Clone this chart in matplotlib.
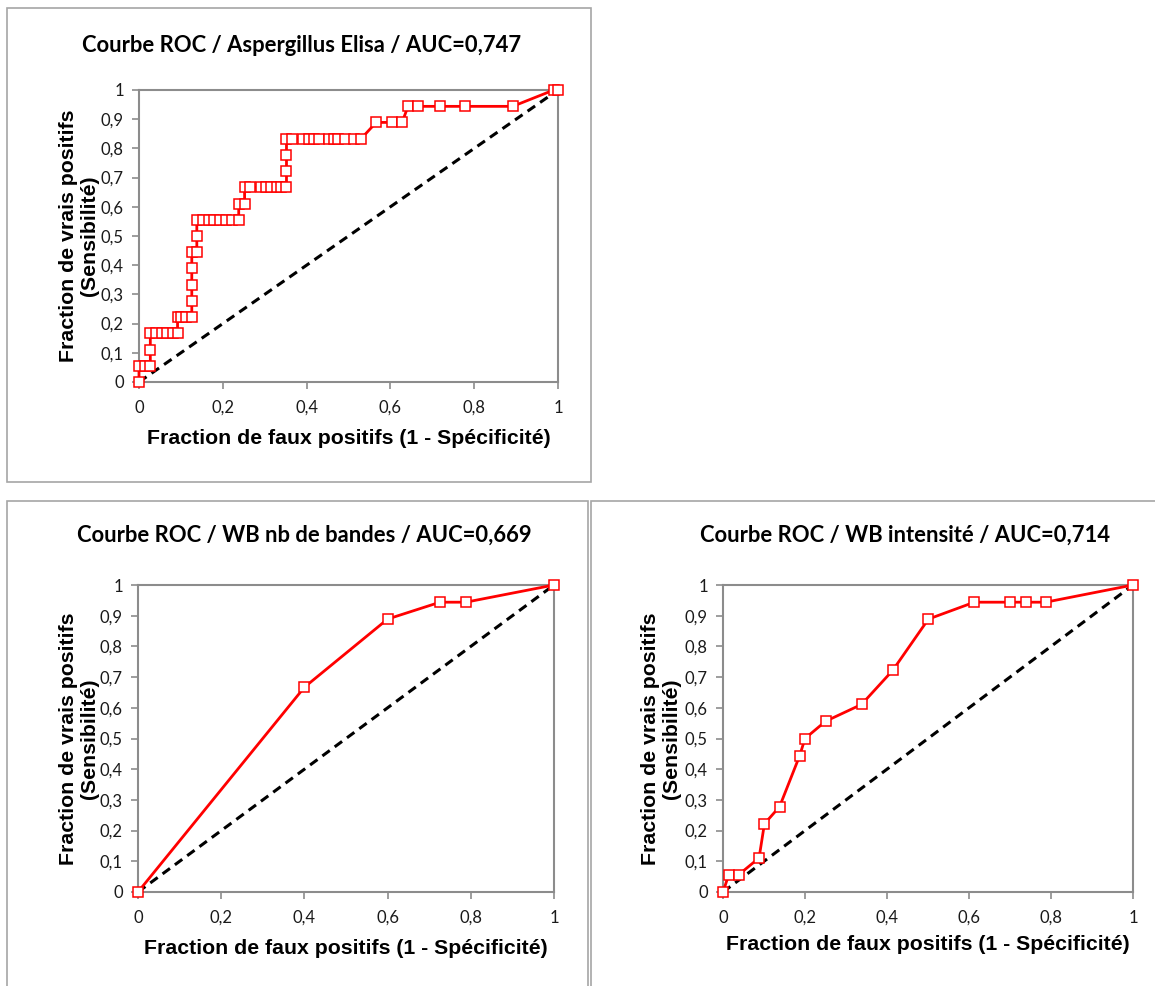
import matplotlib.pyplot as plt
from matplotlib.patches import Rectangle

# Courbe ROC - Aspergillus Elisa
elisa_fpr = [0.0, 0.0, 0.014, 0.027, 0.027, 0.027, 0.040, 0.054, 0.066, 0.080, 0.092,
             0.092, 0.100, 0.113, 0.126, 0.126, 0.126, 0.126, 0.126, 0.138, 0.138,
             0.138, 0.152, 0.166, 0.180, 0.194, 0.208, 0.222, 0.238, 0.238, 0.252,
             0.252, 0.266, 0.290, 0.304, 0.316, 0.329, 0.340, 0.352, 0.352, 0.352,
             0.352, 0.366, 0.392, 0.405, 0.418, 0.430, 0.454, 0.466, 0.476, 0.491,
             0.512, 0.530, 0.566, 0.604, 0.628, 0.642, 0.666, 0.718, 0.778, 0.892,
             0.990, 1.0]
elisa_tpr = [0.0, 0.056, 0.056, 0.056, 0.111, 0.167, 0.167, 0.167, 0.167, 0.167, 0.167,
             0.222, 0.222, 0.222, 0.222, 0.278, 0.333, 0.389, 0.444, 0.444, 0.5,
             0.556, 0.556, 0.556, 0.556, 0.556, 0.556, 0.556, 0.556, 0.611, 0.611,
             0.667, 0.667, 0.667, 0.667, 0.667, 0.667, 0.667, 0.667, 0.722, 0.778,
             0.833, 0.833, 0.833, 0.833, 0.833, 0.833, 0.833, 0.833, 0.833, 0.833,
             0.833, 0.833, 0.889, 0.889, 0.889, 0.944, 0.944, 0.944, 0.944, 0.944,
             1.0, 1.0]

# Courbe ROC - WB nb de bandes
bandes_fpr = [0.0, 0.4, 0.6, 0.726, 0.788, 1.0]
bandes_tpr = [0.0, 0.667, 0.889, 0.944, 0.944, 1.0]

# Courbe ROC - WB intensite
intens_fpr = [0.0, 0.014, 0.038, 0.088, 0.101, 0.138, 0.187, 0.2, 0.25, 0.338,
              0.414, 0.501, 0.613, 0.70, 0.738, 0.787, 1.0]
intens_tpr = [0.0, 0.056, 0.056, 0.111, 0.222, 0.278, 0.444, 0.5, 0.556, 0.611,
              0.722, 0.889, 0.944, 0.944, 0.944, 0.944, 1.0]

titles = ["Courbe ROC / Aspergillus Elisa / AUC=0,747",
          "Courbe ROC / WB nb de bandes / AUC=0,669",
          "Courbe ROC / WB intensité / AUC=0,714"]
xlabel = "Fraction de faux positifs (1 - Spécificité)"
ylabel = "Fraction de vrais positifs\n(Sensibilité)"
xticks = [0, 0.2, 0.4, 0.6, 0.8, 1.0]
xticklabels = ["0", "0,2", "0,4", "0,6", "0,8", "1"]
yticks = [0, 0.1, 0.2, 0.3, 0.4, 0.5, 0.6, 0.7, 0.8, 0.9, 1.0]
yticklabels = ["0", "0,1", "0,2", "0,3", "0,4", "0,5", "0,6", "0,7", "0,8", "0,9", "1"]

W, H = 1155, 986
fig = plt.figure(figsize=(W / 100, H / 100), dpi=100)
fig.patch.set_facecolor("white")

GRIS = "#8c8c8c"
ROUGE = "#ff0000"


def fx(px):
    return px / W


def fy(py):
    return 1 - py / H


def cadre(x0, y0, x1, y1):
    fig.patches.append(Rectangle((fx(x0), fy(y1)), fx(x1) - fx(x0), fy(y0) - fy(y1),
                                 transform=fig.transFigure, fill=False,
                                 edgecolor="#a6a6a6", linewidth=1.2))


def courbe(box, fpr, tpr, title, ylab_x, title_pos, xlab_y):
    # box = (gauche, haut, droite, bas) en pixels
    x0, y0, x1, y1 = box
    ax = fig.add_axes([fx(x0), fy(y1), fx(x1) - fx(x0), fy(y0) - fy(y1)])
    ax.plot([0, 1], [0, 1], color="black", lw=2.2, ls=(0, (3, 2)), zorder=2)
    ax.plot(fpr, tpr, color=ROUGE, lw=2.0, marker="s", markersize=6.5,
            markerfacecolor="white", markeredgecolor=ROUGE, markeredgewidth=1.1,
            zorder=3, clip_on=False)
    ax.set_xlim(0, 1)
    ax.set_ylim(0, 1)
    ax.set_xticks(xticks)
    ax.set_xticklabels(xticklabels)
    ax.set_yticks(yticks)
    ax.set_yticklabels(yticklabels)
    for s in ax.spines.values():
        s.set_color(GRIS)
        s.set_linewidth(1.5)
    ax.tick_params(direction="out", length=5, width=1.2, color=GRIS,
                   labelsize=12, labelcolor="#1a1a1a")
    ax.tick_params(axis="x", pad=8)
    ax.tick_params(axis="y", pad=6)
    for lab in ax.get_xticklabels() + ax.get_yticklabels():
        lab.set_family("Lato")
    fig.text(fx((x0 + x1) / 2), fy(xlab_y), xlabel, ha="center", va="center",
             fontsize=15.3, fontweight="bold", family="Liberation Sans")
    fig.text(fx(ylab_x), (fy(y0) + fy(y1)) / 2, ylabel, rotation=90,
             ha="center", va="center", fontsize=15.3, fontweight="bold",
             family="Liberation Sans", linespacing=1.1)
    fig.text(fx(title_pos[0]), fy(title_pos[1]), title, ha="center", va="center",
             fontsize=15.8, fontweight="bold", family="Lato")
    return ax


cadre(7, 8, 591, 482)
cadre(7, 501, 588, 1000)
cadre(591, 501, 1160, 1000)

courbe((139, 90, 558, 382), elisa_fpr, elisa_tpr, titles[0], 79, (302, 45), 438)
courbe((138, 585, 554, 892), bandes_fpr, bandes_tpr, titles[1], 79, (304, 535), 948)
courbe((723, 585, 1133, 892), intens_fpr, intens_tpr, titles[2], 661, (905, 535), 944)

fig.savefig("out.png", dpi=100, facecolor="white")
